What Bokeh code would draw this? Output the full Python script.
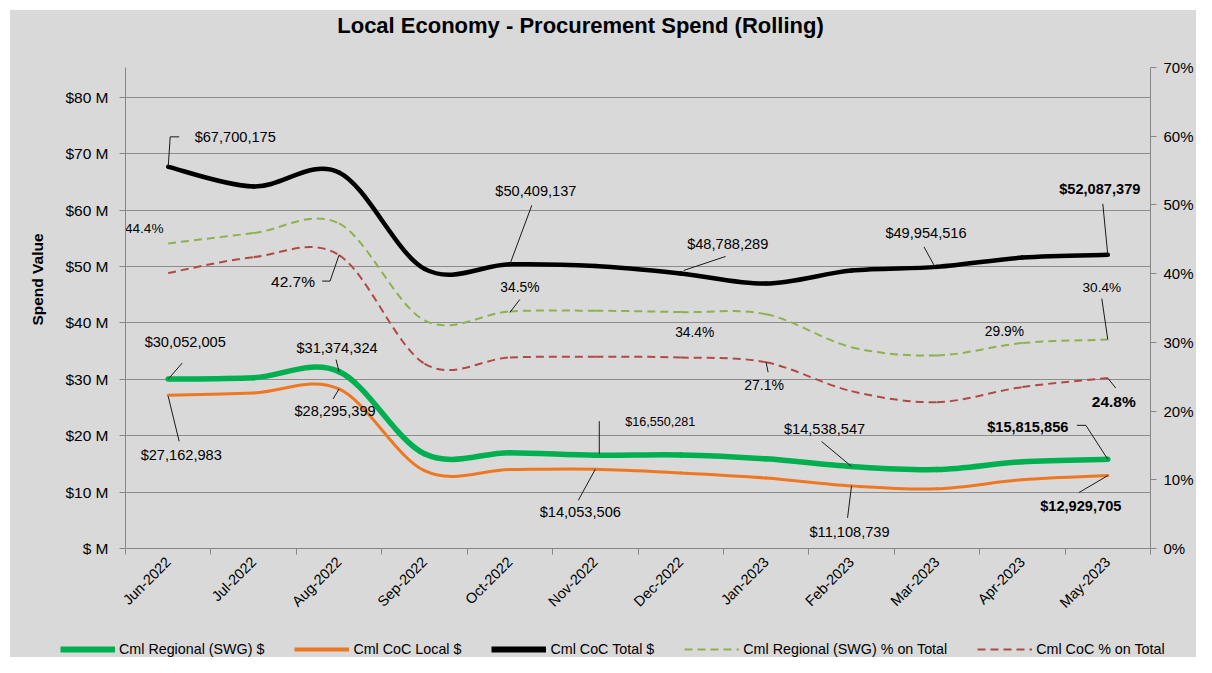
import numpy as np
from math import pi
from bokeh.plotting import figure
from bokeh.models import Range1d, LinearAxis, FixedTicker, Legend, LegendItem, Label
from bokeh.core.properties import value
from bokeh.embed import file_html
from bokeh.resources import INLINE

# ---------------- data ----------------
months = ["Jun-2022", "Jul-2022", "Aug-2022", "Sep-2022", "Oct-2022", "Nov-2022",
          "Dec-2022", "Jan-2023", "Feb-2023", "Mar-2023", "Apr-2023", "May-2023"]
regional_swg = [30052005, 30300000, 31374324, 16800000, 17000000, 16550281,
                16600000, 15900000, 14538547, 14000000, 15400000, 15815856]
coc_local = [27162983, 27600000, 28295399, 13800000, 14000000, 14053506,
             13400000, 12500000, 11108739, 10600000, 12200000, 12929705]
coc_total = [67700175, 64200000, 66700000, 49600000, 50409137, 50100000,
             48788289, 47000000, 49300000, 49954516, 51600000, 52087379]
regional_pct = [44.4, 45.9, 47.3, 33.2, 34.5, 34.6, 34.4, 34.1, 29.3, 28.1, 29.9, 30.4]
coc_pct = [40.1, 42.4, 42.7, 26.9, 27.8, 27.9, 27.8, 27.1, 22.9, 21.3, 23.5, 24.8]
left_ticks = [0, 10, 20, 30, 40, 50, 60, 70, 80]      # $ M
right_ticks = [0, 10, 20, 30, 40, 50, 60, 70]         # %
legend_labels = ["Cml Regional (SWG) $", "Cml CoC Local $", "Cml CoC Total $",
                 "Cml Regional (SWG) % on Total", "Cml CoC % on Total"]
title_text = "Local Economy - Procurement Spend (Rolling)"

# ---------------- styling / layout ----------------
FONT = "Liberation Sans"
BG = "#d9d9d9"
AXC = "#868686"
W, H = 1186, 618
ML, MR, MT, MB = 115, 43, 0, 80
LEG_H = 30
FW, FH = W - ML - MR, H - MT - MB        # frame size (frame reaches the top edge)
PLOT_H = 481                             # height of the axes area inside the frame
LMAX, RMAX = 85.32, 70.0                 # axis ends at the top of the axes area
PX_X = FW / 12.0
PX_L = PLOT_H / LMAX
PX_R = PLOT_H / RMAX

C_GREEN = "#00b050"
C_ORANGE = "#ee7722"
C_BLACK = "#000000"
C_OLIVE = "#8fb04f"
C_RED = "#b04a48"

p = figure(width=W, height=H, output_backend="svg", toolbar_location=None,
           x_range=Range1d(-0.5, 11.5), y_range=Range1d(0, FH / PX_L),
           min_border_left=ML, min_border_right=MR, min_border_top=MT, min_border_bottom=MB)
p.margin = (10, 0, 0, 10)
p.styles = {"background-color": BG}
p.background_fill_color = BG
p.border_fill_color = None
p.outline_line_color = None
p.extra_y_ranges = {"pct": Range1d(0, FH / PX_R)}

# x axis (category ticks on boundaries, labels at centres)
xa = p.xaxis[0]
xa.ticker = FixedTicker(ticks=list(range(12)), minor_ticks=[i - 0.5 for i in range(13)])
xa.major_label_overrides = {i: m for i, m in enumerate(months)}
xa.major_tick_line_color = None
xa.major_tick_out = 6
xa.minor_tick_line_color = AXC
xa.minor_tick_out = 6
xa.minor_tick_in = 0
xa.axis_line_color = AXC
xa.major_label_orientation = pi / 4
xa.major_label_standoff = 5
xa.major_label_text_font = FONT
xa.major_label_text_font_size = "14.5px"
xa.major_label_text_color = "#000000"

# left axis
ya = p.yaxis[0]
ya.bounds = (0, LMAX)
ya.ticker = FixedTicker(ticks=left_ticks)
ya.major_label_overrides = {t: ("$ M" if t == 0 else f"${t} M") for t in left_ticks}
ya.minor_tick_line_color = None
ya.major_tick_line_color = AXC
ya.major_tick_out = 6
ya.major_tick_in = 0
ya.major_label_standoff = 11
ya.axis_line_color = AXC
ya.major_label_text_font = FONT
ya.major_label_text_font_size = "15.5px"
ya.major_label_text_color = "#000000"
ya.axis_label = "Spend Value"
ya.axis_label_text_font = FONT
ya.axis_label_text_font_size = "15.5px"
ya.axis_label_text_font_style = "bold"
ya.axis_label_text_color = "#000000"
ya.axis_label_standoff = 16

# right axis
ra = LinearAxis(y_range_name="pct", ticker=FixedTicker(ticks=right_ticks), bounds=(0, RMAX),
                major_label_overrides={t: f"{t}%" for t in right_ticks})
ra.minor_tick_line_color = None
ra.major_tick_line_color = AXC
ra.major_tick_out = 6
ra.major_tick_in = 0
ra.major_label_standoff = 7
ra.axis_line_color = AXC
ra.major_label_text_font = FONT
ra.major_label_text_font_size = "15px"
ra.major_label_text_color = "#000000"
p.add_layout(ra, "right")

p.xgrid.visible = False
p.ygrid[0].ticker = FixedTicker(ticks=left_ticks)
p.ygrid.grid_line_color = "#8c8c8c"
p.ygrid.grid_line_width = 1


def smooth(xv, yv):
    """Catmull-Rom style cubic Bezier segments through the data points (Excel smoothed line)."""
    xv = np.asarray(xv, float)
    yv = np.asarray(yv, float)
    qx = np.concatenate([[xv[0]], xv, [xv[-1]]])
    qy = np.concatenate([[yv[0]], yv, [yv[-1]]])
    n = len(xv)
    i = np.arange(n - 1)
    return dict(x0=qx[i + 1], y0=qy[i + 1], x1=qx[i + 2], y1=qy[i + 2],
                cx0=qx[i + 1] + (qx[i + 2] - qx[i]) / 6, cy0=qy[i + 1] + (qy[i + 2] - qy[i]) / 6,
                cx1=qx[i + 2] - (qx[i + 3] - qx[i + 1]) / 6, cy1=qy[i + 2] - (qy[i + 3] - qy[i + 1]) / 6)


xs = list(range(len(months)))
m = lambda arr: [v / 1e6 for v in arr]

series = [
    (m(regional_swg), "default", C_GREEN, 5.5, "solid", 6),
    (m(coc_local), "default", C_ORANGE, 3, "solid", 4),
    (m(coc_total), "default", C_BLACK, 4.5, "solid", 6),
    (regional_pct, "pct", C_OLIVE, 2, "8 5", 2),
    (coc_pct, "pct", C_RED, 2, "8 5", 2),
]

# legend strip: its own small figure (separate root) directly below the chart
lf = figure(width=W, height=LEG_H, output_backend="svg", toolbar_location=None,
            x_range=Range1d(0, 1), y_range=Range1d(0, 1), min_border=0,
            x_axis_location=None, y_axis_location=None)
lf.margin = (-1, 0, 0, 10)
lf.styles = {"background-color": BG}
lf.grid.visible = False
lf.outline_line_color = None
lf.background_fill_color = BG
lf.border_fill_color = None

legend_items = []
for (vals, rng, col, lw, dash, lgw), lab in zip(series, legend_labels):
    p.bezier(**smooth(xs, vals), line_color=col, line_width=lw, line_dash=dash,
             line_cap="round" if dash == "solid" else "butt", y_range_name=rng)
    swatch = lf.line([-3, -2], [-3, -2], line_color=col, line_width=lgw, line_dash=dash)
    legend_items.append(LegendItem(label=lab, renderers=[swatch]))

legend = Legend(items=legend_items, location=(50, 0), orientation="horizontal",
                background_fill_alpha=0, border_line_color=None, padding=0, margin=0,
                spacing=30, glyph_width=55, glyph_height=16, label_height=16, label_standoff=4,
                label_text_font=FONT, label_text_font_size="14.3px", label_text_color="#000000")
lf.add_layout(legend, "center")

# ---------------- data labels (index, series, axis, text, dx, dy, leader, size, bold) ----------------
dollar = lambda v: f"${v:,.0f}"
pct = lambda v: f"{v:.1f}%"
labels = [
    (0, coc_total, "default", dollar, 67, -30, [(0, 0), (2, -30), (11, -30)], "14.6px", False),
    (4, coc_total, "default", dollar, 26, -73, [(0, 0), (22, -59)], "14.6px", False),
    (6, coc_total, "default", dollar, 47, -29, [(3, -3), (45, -17)], "14.6px", False),
    (9, coc_total, "default", dollar, -11, -34, [(-2, 0), (-13, -20)], "14.6px", False),
    (11, coc_total, "default", dollar, -8, -66, [(0, 0), (-5, -51)], "14.6px", True),
    (0, regional_swg, "default", dollar, 17, -37, [(0, 0), (14, -16)], "14.6px", False),
    (0, coc_local, "default", dollar, 13, 60, [(0, 1), (11, 46)], "14.6px", False),
    (2, regional_swg, "default", dollar, -2, -24, [(0, 0), (-3, -12)], "14.6px", False),
    (2, coc_local, "default", dollar, -4, 22, [(0, 0), (-6, 10)], "14.6px", False),
    (5, coc_local, "default", dollar, -15, 43, [(0, 0), (-17, 31)], "14.6px", False),
    (5, regional_swg, "default", dollar, 65, -33, [(4, -1), (4, -34)], "12.6px", False),
    (8, regional_swg, "default", dollar, -27, -38, [(0, 0), (-30, -25)], "14.6px", False),
    (8, coc_local, "default", dollar, -2, 46, [(0, 0), (-4, 32)], "14.6px", False),
    (11, regional_swg, "default", dollar, -80, -32, [(0, 0), (-22, -34), (-31, -34)], "14.6px", True),
    (11, coc_local, "default", dollar, -27, 30, [(0, 0), (-29, 17)], "14.6px", True),
    (0, regional_pct, "pct", pct, -24, -15, None, "13.6px", False),
    (2, coc_pct, "pct", pct, -46, 26, [(0, 0), (-9, 26), (-17, 26)], "15.5px", False),
    (4, regional_pct, "pct", pct, 10, -24, [(0, 1), (10, -12)], "13.8px", False),
    (6, regional_pct, "pct", pct, 14, 20, None, "13.8px", False),
    (7, coc_pct, "pct", pct, -2, 23, [(0, 0), (2, 10)], "14px", False),
    (10, regional_pct, "pct", pct, -18, -12, None, "13.8px", False),
    (11, regional_pct, "pct", pct, -6, -52, [(0, 0), (-6, -41)], "13.6px", False),
    (11, coc_pct, "pct", pct, 6, 23, [(0, 0), (8, 10)], "15.5px", True),
]

for i, arr, rng, fmt, dx, dy, leader, size, bold in labels:
    v = arr[i]
    yv = v / 1e6 if rng == "default" else v
    ppu = PX_L if rng == "default" else PX_R
    if leader:
        lx = [i + ox / PX_X for ox, oy in leader]
        ly = [yv - oy / ppu for ox, oy in leader]
        p.line(lx, ly, line_color="#1a1a1a", line_width=1, y_range_name=rng)
    p.text(x=[i], y=[yv], text=[fmt(v)], x_offset=dx, y_offset=dy, y_range_name=rng,
           text_align="center", text_baseline="middle", text_color="#000000",
           text_font=value(FONT), text_font_size=value(size),
           text_font_style="bold" if bold else "normal")

# title (inside the frame, which reaches the top of the figure)
p.add_layout(Label(x=455, y=FH - 15, x_units="screen", y_units="screen", text=title_text,
                   text_align="center", text_baseline="middle", text_font=FONT,
                   text_font_size="22px", text_font_style="bold", text_color="#000000"))

open("out.html", "w").write(file_html([p, lf], INLINE))
